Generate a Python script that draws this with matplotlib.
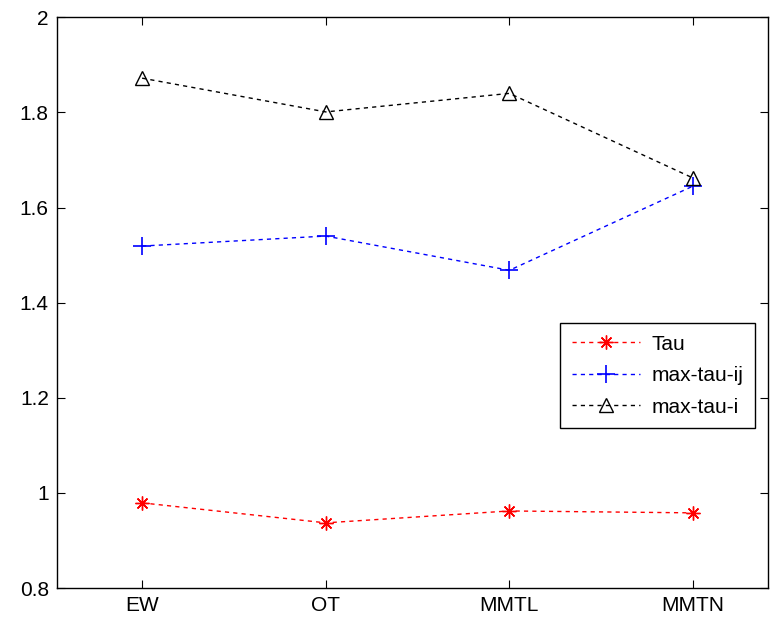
import matplotlib
matplotlib.use("Agg")
import matplotlib.pyplot as plt

plt.rcParams['font.family'] = ['Liberation Sans', 'DejaVu Sans']

methods = ["EW", "OT", "MMTL", "MMTN"]
tau = [0.979, 0.937, 0.962, 0.958]
max_tau_ij = [1.519, 1.540, 1.468, 1.645]
max_tau_i = [1.872, 1.801, 1.840, 1.662]

x = list(range(1, len(methods) + 1))

fig = plt.figure(figsize=(7.82, 6.17), dpi=100)
ax = fig.add_axes([0.073, 0.047, 0.909, 0.925])

ls = (0, (3, 3))
ax.plot(x, tau, color="red", linestyle=ls, linewidth=1,
        marker=(8, 2, 0), markersize=10, markeredgewidth=1, label="Tau")
ax.plot(x, max_tau_ij, color="blue", linestyle=ls, linewidth=1,
        marker="+", markersize=13, markeredgewidth=1.2, label="max-tau-ij")
ax.plot(x, max_tau_i, color="black", linestyle=ls, linewidth=1,
        marker="^", markersize=10, markerfacecolor="none", markeredgewidth=1,
        label="max-tau-i")

ax.set_xlim(0.537, 4.408)
ax.set_ylim(0.8, 2.0)
ax.set_xticks(x)
ax.set_xticklabels(methods)
ax.set_yticks([0.8, 1, 1.2, 1.4, 1.6, 1.8, 2])
ax.set_yticklabels(["0.8", "1", "1.2", "1.4", "1.6", "1.8", "2"])
ax.tick_params(direction="in", top=True, right=True, length=6, labelsize=15, pad=6)
for s in ax.spines.values():
    s.set_linewidth(1)

leg = ax.legend(loc="upper right", bbox_to_anchor=(0.982, 0.464), borderaxespad=0,
                fontsize=15, fancybox=False, edgecolor="black", framealpha=1,
                handlelength=3.3, handletextpad=0.55, labelspacing=0.6,
                borderpad=0.55)
leg.get_frame().set_linewidth(1)

fig.savefig("out.png", dpi=100)
